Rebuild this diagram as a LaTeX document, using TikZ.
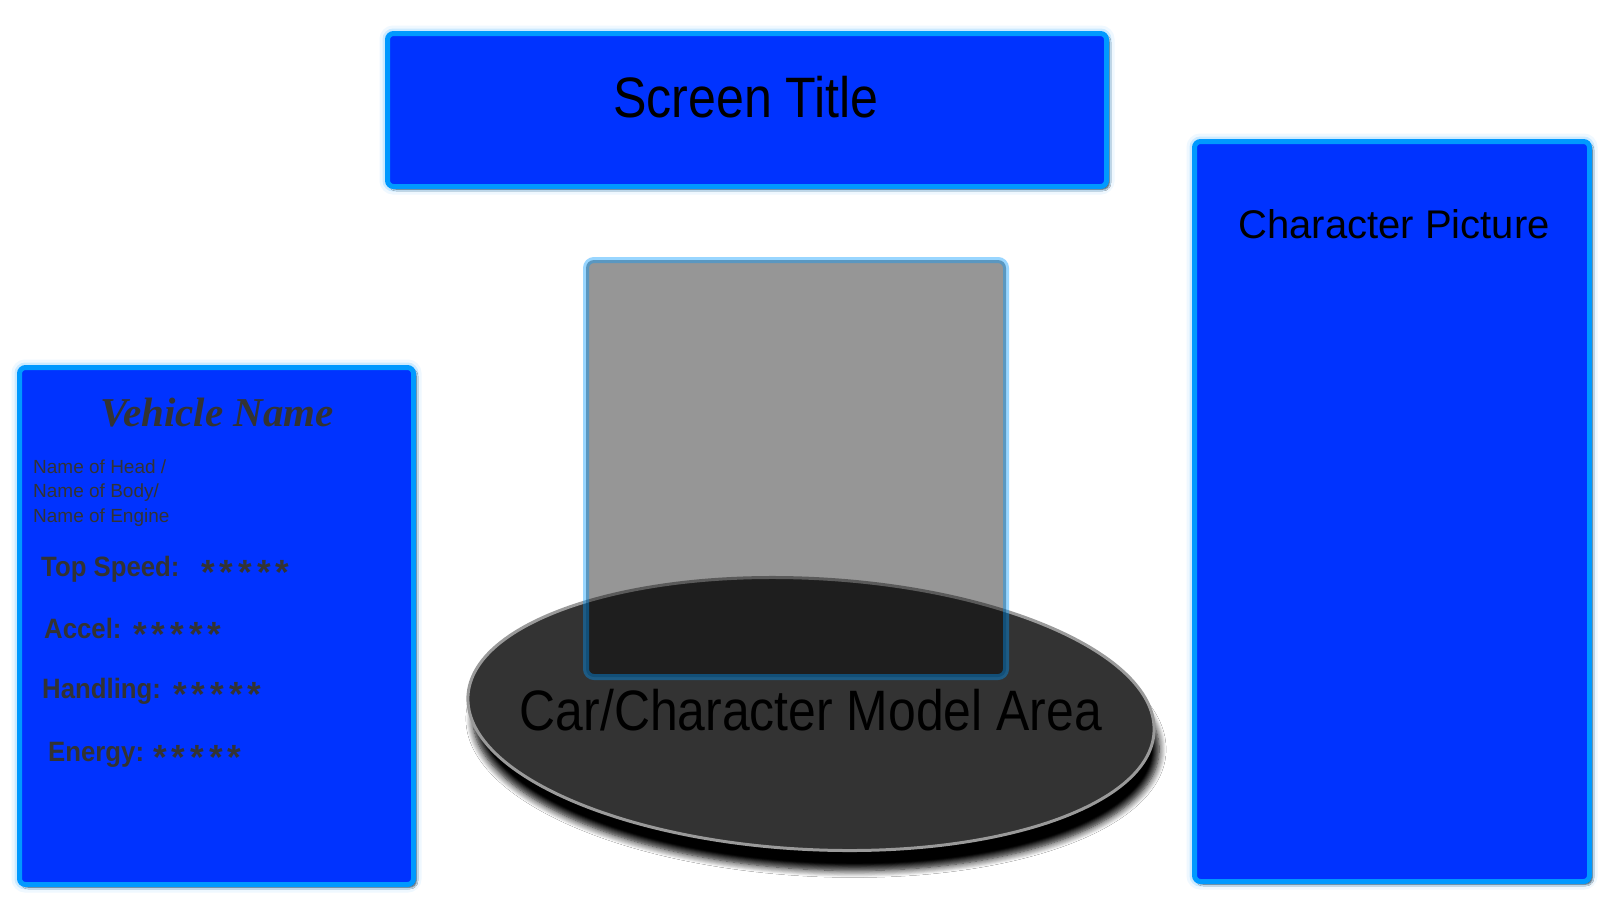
\documentclass[tikz,border=0pt]{standalone}
\usepackage{fontspec}
\setmainfont{Liberation Sans}
\newfontfamily\serifbi{Liberation Serif}
\usetikzlibrary{shapes.geometric,shadows.blur}
\definecolor{pfill}{HTML}{0033FF}
\definecolor{pedge}{HTML}{0099FF}
\definecolor{glowc}{HTML}{66C2FF}
\definecolor{dtext}{HTML}{333333}
\definecolor{platfill}{HTML}{333333}
\definecolor{platedge}{HTML}{9A9A9A}
\newcommand\fivestars{*\hspace{5pt}*\hspace{5pt}*\hspace{5pt}*\hspace{5pt}*}
\tikzset{
  panel/.style={rectangle, rounded corners=6pt, inner sep=0pt, fill=pfill, draw=pedge, line width=5pt,
    preaction={draw=glowc, line width=16pt, draw opacity=0.10},
    preaction={draw=glowc, line width=10pt, draw opacity=0.25},
    blur shadow={shadow xshift=2.5pt, shadow yshift=-2.5pt, shadow blur radius=2pt, shadow opacity=75, shadow blur steps=4}},
  platform/.style={ellipse, inner sep=0pt, fill=platfill, draw=platedge, line width=3pt,
    blur shadow={shadow xshift=5pt, shadow yshift=-20pt, shadow blur radius=7pt, shadow opacity=100, shadow blur steps=8}},
  glass/.style={rectangle, rounded corners=8pt, inner sep=0pt, fill=black, fill opacity=0.41,
    draw=pedge, draw opacity=0.4, line width=6pt},
  bigtxt/.style={anchor=base, inner sep=0pt, text=black, font=\fontsize{57}{60}\selectfont},
  pictxt/.style={anchor=base, inner sep=0pt, text=black, font=\fontsize{40}{44}\selectfont},
  vtitle/.style={anchor=base, inner sep=0pt, text=dtext, font=\serifbi\bfseries\itshape\fontsize{41}{44}\selectfont},
  parttxt/.style={anchor=base west, inner sep=0pt, text=dtext, font=\fontsize{19}{22}\selectfont},
  stattxt/.style={anchor=base west, inner sep=0pt, text=dtext, font=\bfseries\fontsize{28}{30}\selectfont},
  startxt/.style={anchor=base west, inner sep=0pt, text=dtext, font=\bfseries\fontsize{35}{38}\selectfont},
}
\begin{document}
\begin{tikzpicture}[x=1pt,y=-1pt]
\useasboundingbox (0,0) rectangle (1600,900);
\fill[white] (0,0) rectangle (1600,900);

% panels
\node[panel, minimum width=719pt, minimum height=153pt] (tbox) at (747,110) {};
\node[panel, minimum width=394pt, minimum height=517pt] (vpanel) at (216.5,626) {};
\node[panel, minimum width=395pt, minimum height=740pt] (cpanel) at (1392,511.5) {};

% platform and model area
\node[platform, rotate=-3, minimum width=687pt, minimum height=271pt] (plat) at (811,714) {};
\node[glass, minimum width=420pt, minimum height=417pt] (model) at (796,468.5) {};

% texts
\node[bigtxt] (ttitle) at (746,117) {\scalebox{0.88}[1]{Screen Title}};
\node[pictxt] (tpic) at (1394,238) {Character Picture};
\node[bigtxt] (tmodel) at (811,730) {\scalebox{0.875}[1]{Car/Character Model Area}};

\node[vtitle] (vname) at (217,426) {Vehicle Name};
\node[parttxt] (phead) at (33,473) {Name of Head /};
\node[parttxt] (pbody) at (33,497) {Name of Body/};
\node[parttxt] (peng) at (33,522) {Name of Engine};

\node[stattxt] (ltop) at (41,576) {\scalebox{0.92}[1]{Top Speed:}};
\node[startxt] (stop) at (201,584) {\fivestars};
\node[stattxt] (lacc) at (44,638) {\scalebox{0.92}[1]{Accel:}};
\node[startxt] (sacc) at (133,646) {\fivestars};
\node[stattxt] (lhan) at (42,698) {\scalebox{0.92}[1]{Handling:}};
\node[startxt] (shan) at (173,706) {\fivestars};
\node[stattxt] (lene) at (48,761) {\scalebox{0.92}[1]{Energy:}};
\node[startxt] (sene) at (153,769) {\fivestars};
\end{tikzpicture}
\end{document}
